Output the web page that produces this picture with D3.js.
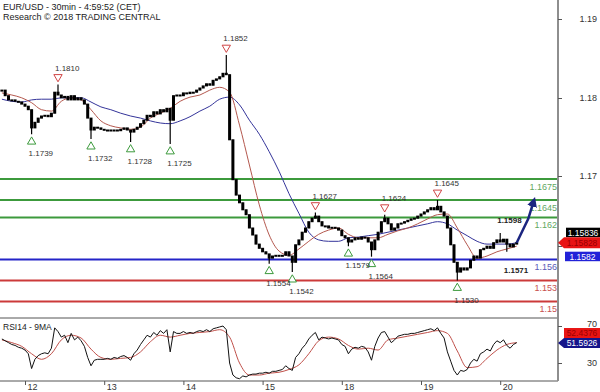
<!DOCTYPE html>
<html>
<head>
<meta charset="utf-8">
<script src="https://cdn.jsdelivr.net/npm/d3@7"></script>
<style>
  body { margin: 0; background: #fff; }
  svg { display: block; font-family: Arial, "Liberation Sans", sans-serif; }
</style>
</head>
<body>
<svg id="chart"></svg>
<script>
// hourly bars, hour 0 = start of the 12th
const startHour = -7;

const closes = [
  1.1802, 1.1794, 1.1788, 1.1788, 1.1786, 1.1785, 1.1782, 1.1779, 1.1774, 1.1748,
  1.1756, 1.1762, 1.1765, 1.1766, 1.1764, 1.1769, 1.1799, 1.1795, 1.1791, 1.1793,
  1.1788, 1.1794, 1.1788, 1.1791, 1.1788, 1.1782, 1.1762, 1.1745, 1.1749, 1.1748,
  1.1746, 1.1745, 1.1745, 1.1744, 1.1745, 1.1744, 1.1746, 1.1748, 1.1745, 1.1742,
  1.1746, 1.1749, 1.1754, 1.1759, 1.1766, 1.1764, 1.1771, 1.1768, 1.1774, 1.1771,
  1.1776, 1.1759, 1.1794, 1.1795, 1.1794, 1.1798, 1.1797, 1.1799, 1.1799, 1.1802,
  1.1805, 1.1808, 1.1811, 1.1809, 1.1816, 1.1818, 1.1821, 1.1826, 1.1824, 1.1731,
  1.1674, 1.1652, 1.1641, 1.1631, 1.1624, 1.1605, 1.1595, 1.1582, 1.1576, 1.1571,
  1.1568, 1.1562, 1.1565, 1.1566, 1.1565, 1.1566, 1.1571, 1.1565, 1.1556, 1.1581,
  1.1588, 1.1599, 1.1605, 1.1614, 1.1619, 1.1622, 1.1614, 1.1608, 1.1608, 1.1605,
  1.1606, 1.1605, 1.1602, 1.1594, 1.1591, 1.1585, 1.1588, 1.1591, 1.1589, 1.1592,
  1.1591, 1.1585, 1.1574, 1.1588, 1.1599, 1.1614, 1.1619, 1.1611, 1.1602, 1.1605,
  1.1611, 1.1612, 1.1614, 1.1616, 1.1618, 1.1619, 1.1622, 1.1625, 1.1628, 1.1631,
  1.1634, 1.1631, 1.1636, 1.1628, 1.1622, 1.1605, 1.1581, 1.1556, 1.1542, 1.1548,
  1.1545, 1.1548, 1.1559, 1.1565, 1.1562, 1.1574, 1.1576, 1.1579, 1.1576, 1.1584,
  1.1588, 1.1585, 1.1589, 1.1582, 1.1578, 1.1582, 1.1584
];

// wick extremes [hour, price]
const wickHighs = [[10, 1.1810], [61, 1.1852], [88, 1.1627], [109, 1.1624], [125, 1.1645], [144, 1.1598]];
const wickLows = [[2, 1.1739], [20, 1.1732], [32, 1.1728], [44, 1.1725], [74, 1.1554], [81, 1.1542],
                  [98, 1.1579], [105, 1.1564], [131, 1.1530], [146, 1.1571]];

// moving averages, one value every 3 hours
const maStep = 3;
const redMA = [
  1.1798, 1.1795, 1.1791, 1.1784, 1.1774, 1.1772, 1.1786, 1.1791, 1.1788, 1.1774,
  1.1758, 1.1751, 1.1748, 1.1746, 1.1749, 1.1762, 1.1769, 1.1776, 1.1786, 1.1792,
  1.1795, 1.1802, 1.1806, 1.1799, 1.1752, 1.1695, 1.1638, 1.1595, 1.1572, 1.1566,
  1.1575, 1.1586, 1.1596, 1.1602, 1.1605, 1.1596, 1.1591, 1.1591, 1.1591, 1.1596,
  1.1601, 1.1605, 1.1611, 1.1618, 1.1624, 1.1625, 1.1605, 1.1581, 1.1562, 1.1565,
  1.1571, 1.1575, 1.1579
];
const blueMA = [
  1.1789, 1.1786, 1.1785, 1.1788, 1.1789, 1.1789, 1.1791, 1.1791, 1.1791, 1.1785,
  1.1778, 1.1774, 1.1769, 1.1765, 1.1762, 1.1758, 1.1755, 1.1754, 1.1758, 1.1764,
  1.1772, 1.1779, 1.1789, 1.1792, 1.1781, 1.1759, 1.1739, 1.1714, 1.1686, 1.1654,
  1.1626, 1.1599, 1.1588, 1.1586, 1.1586, 1.1591, 1.1592, 1.1594, 1.1596, 1.1599,
  1.1602, 1.1605, 1.1608, 1.1611, 1.1614, 1.1611, 1.1602, 1.1594, 1.1586, 1.1582,
  1.1582, 1.1582, 1.1584
];

const rsi = [
  56, 54, 52, 50, 49, 47, 46, 44, 40, 24,
  34, 38, 40, 41, 40, 46, 68, 64, 58, 60,
  52, 62, 55, 58, 54, 48, 36, 27, 33, 34,
  34, 34, 35, 34, 36, 35, 37, 38, 36, 33,
  40, 44, 50, 55, 60, 58, 63, 60, 65, 62,
  66, 42, 64, 62, 62, 64, 62, 63, 62, 64,
  65, 64, 66, 64, 67, 68, 69, 70, 66, 30,
  17, 14, 13, 16, 15, 17, 18, 18, 19, 19,
  20, 19, 21, 21, 22, 23, 27, 24, 22, 36,
  40, 46, 50, 56, 60, 63, 55, 58, 57, 56,
  57, 56, 55, 50, 48, 40, 45, 47, 46, 48,
  47, 42, 33, 48, 57, 63, 64, 58, 52, 55,
  59, 60, 61, 61, 62, 62, 63, 64, 65, 66,
  67, 65, 68, 62, 57, 42, 32, 22, 17, 22,
  21, 23, 30, 34, 32, 40, 42, 45, 43, 50,
  54, 52, 55, 49, 46, 50, 52
];
const rsiMA = [
  55, 52, 48, 40, 34, 40, 55, 60, 57, 45,
  36, 34, 35, 36, 42, 53, 60, 58, 60, 62,
  63, 64, 66, 58, 30, 17, 17, 19, 20, 23,
  28, 40, 54, 58, 56, 49, 45, 46, 44, 55,
  57, 59, 61, 63, 65, 62, 43, 25, 26, 35,
  44, 50, 52
];

const levelValues = [1.1675, 1.1645, 1.162, 1.156, 1.153, 1.15];
const levelLabels = ['1.1675', '1.1645', '1.162', '1.156', '1.153', '1.15'];
const levelKinds = ['res', 'res', 'res', 'pivot', 'sup', 'sup'];

// annotated turning points
const markerHours = [2, 10, 20, 32, 44, 61, 74, 81, 88, 98, 105, 109, 125, 131, 144, 146];
const markerValues = [1.1739, 1.1810, 1.1732, 1.1728, 1.1725, 1.1852, 1.1554, 1.1542, 1.1627,
                      1.1579, 1.1564, 1.1624, 1.1645, 1.1530, 1.1598, 1.1571];
const markerKinds = ['low', 'high', 'low', 'low', 'low', 'high', 'low', 'low', 'high',
                     'low', 'low', 'high', 'high', 'low', 'target', 'target-low'];

const dayHours = [0, 24, 48, 72, 96, 120, 144];
const dayLabels = ['12', '13', '14', '15', '18', '19', '20'];
const priceTicks = [1.19, 1.18, 1.17, 1.16];
const priceTickLabels = ['1.19', '1.18', '1.17', ''];   // 1.16 sits under the price tags
const rsiTicks = [70, 30];

const forecastHours = [149, 152.5, 154.2];
const forecastValues = [1.1584, 1.1618, 1.1644];

const priceTags = ['1.15836', '1.15828', '1.1582'];
const rsiTags = ['52.4376', '51.5926'];


class TradingChart {

  constructor(_config) {
    this.config = {
      parentElement: _config.parentElement,
      containerWidth: _config.containerWidth || 600,
      containerHeight: _config.containerHeight || 392,
      plotRight: 558,
      panelSplit: 318,
      bottom: 381
    }
    this.initVis();
  }

  initVis() {
    let vis = this;
    const c = vis.config;

    vis.svg = d3.select(c.parentElement)
      .attr('width', c.containerWidth)
      .attr('height', c.containerHeight);

    vis.x = d3.scaleLinear().domain([0, 24]).range([25, 104.2]);
    vis.y = d3.scaleLinear().domain([1.1675, 1.15]).range([179, 301.5]);
    // the printed price axis is spaced a little differently from the plot
    vis.yAxisScale = d3.scaleLinear().domain([1.16, 1.17, 1.18, 1.19]).range([246, 176, 98, 19]);
    vis.yRsi = d3.scaleLinear().domain([70, 30]).range([326, 363]);

    const defs = vis.svg.append('defs');
    defs.append('clipPath').attr('id', 'clipMain')
      .append('rect').attr('x', 0).attr('y', 0).attr('width', c.plotRight).attr('height', c.panelSplit);
    defs.append('clipPath').attr('id', 'clipRsi')
      .append('rect').attr('x', 0).attr('y', c.panelSplit).attr('width', c.plotRight).attr('height', c.bottom - c.panelSplit);
    defs.append('marker')
      .attr('id', 'head')
      .attr('viewBox', '0 0 10 10')
      .attr('refX', 6).attr('refY', 5)
      .attr('markerWidth', 4).attr('markerHeight', 4)
      .attr('orient', 'auto')
      .append('path').attr('d', 'M0,0L10,5L0,10z').attr('fill', '#1b2580');

    vis.main = vis.svg.append('g').attr('clip-path', 'url(#clipMain)');
    vis.lower = vis.svg.append('g').attr('clip-path', 'url(#clipRsi)');
  }

  renderVis() {
    let vis = this;
    const c = vis.config;
    const x = vis.x, y = vis.y;

    // title
    vis.svg.append('text').attr('x', 3).attr('y', 9.5)
      .style('font-size', '9px').attr('fill', '#222')
      .text('EUR/USD - 30min - 4:59:52 (CET)');
    vis.svg.append('text').attr('x', 3).attr('y', 20)
      .style('font-size', '9px').attr('fill', '#222')
      .text('Research © 2018 TRADING CENTRAL');

    // key levels
    const levelColor = {res: '#3c9a3c', pivot: '#2424c8', sup: '#cc3a3a'};
    const levelText = {res: '#62a862', pivot: '#5a5ab8', sup: '#c85050'};
    vis.main.selectAll('.level')
      .data(levelValues)
      .enter().append('line')
      .attr('x1', 0).attr('x2', c.plotRight)
      .attr('y1', d => y(d)).attr('y2', d => y(d))
      .attr('stroke', (d, i) => levelColor[levelKinds[i]])
      .attr('stroke-width', 2);
    vis.main.selectAll('.levelLabel')
      .data(levelValues)
      .enter().append('text')
      .attr('x', c.plotRight - 1)
      .attr('y', d => y(d) + 10.5)
      .attr('text-anchor', 'end')
      .style('font-size', '9px')
      .attr('fill', (d, i) => levelText[levelKinds[i]])
      .text((d, i) => levelLabels[i]);

    // moving averages
    const maLine = d3.line()
      .x((d, i) => x(startHour + i * maStep))
      .y(d => y(d))
      .curve(d3.curveMonotoneX);
    vis.main.append('path').attr('d', maLine(blueMA))
      .attr('fill', 'none').attr('stroke', '#34349a').attr('stroke-width', 1);
    vis.main.append('path').attr('d', maLine(redMA))
      .attr('fill', 'none').attr('stroke', '#b4584e').attr('stroke-width', 1);

    // candles
    const highMap = new Map(wickHighs);
    const lowMap = new Map(wickLows);
    const bars = closes.map((cl, i) => {
      const h = startHour + i;
      const o = i === 0 ? cl : closes[i - 1];
      let hi = Math.max(o, cl), lo = Math.min(o, cl);
      if (highMap.has(h)) hi = Math.max(hi, highMap.get(h));
      if (lowMap.has(h)) lo = Math.min(lo, lowMap.get(h));
      return {h: h, o: o, c: cl, hi: hi, lo: lo};
    });

    const candles = vis.main.selectAll('.candle')
      .data(bars)
      .enter().append('g');
    candles.append('line')
      .attr('x1', d => x(d.h)).attr('x2', d => x(d.h))
      .attr('y1', d => y(d.hi)).attr('y2', d => y(d.lo))
      .attr('stroke', '#000').attr('stroke-width', 1.2);
    candles.append('rect')
      .attr('x', d => x(d.h) - 1.5)
      .attr('width', 3)
      .attr('y', d => y(Math.max(d.o, d.c)) - 0.5)
      .attr('height', d => Math.max(2, Math.abs(y(d.o) - y(d.c)) + 1))
      .attr('fill', '#000');

    // turning point markers
    const markers = markerHours.map((h, i) => ({h: h, v: markerValues[i], kind: markerKinds[i]}));
    const tri = d3.symbol().type(d3.symbolTriangle).size(30);
    vis.main.selectAll('.tri')
      .data(markers.filter(d => d.kind === 'low' || d.kind === 'high'))
      .enter().append('path')
      .attr('d', tri)
      .attr('transform', d => d.kind === 'low'
        ? `translate(${x(d.h)},${y(d.v) + 7.5})`
        : `translate(${x(d.h)},${y(d.v) - 7.5}) rotate(180)`)
      .attr('fill', '#fff')
      .attr('stroke', d => d.kind === 'low' ? '#3c9a3c' : '#d04545')
      .attr('stroke-width', 1);
    vis.main.selectAll('.markLabel')
      .data(markers)
      .enter().append('text')
      .attr('x', d => x(d.h) - 3)
      .attr('y', d => {
        if (d.kind === 'low') return y(d.v) + 22;
        if (d.kind === 'high') return y(d.v) - 14;
        if (d.kind === 'target') return y(d.v) - 10;
        return y(d.v) + 21;
      })
      .style('font-size', '8px')
      .style('font-weight', d => d.kind.startsWith('target') ? 'bold' : 'normal')
      .attr('fill', d => d.kind.startsWith('target') ? '#222' : '#333')
      .text(d => d.v.toFixed(4));

    // forecast arrow
    const fLine = d3.line().x(d => x(d[0])).y(d => y(d[1]));
    vis.main.append('path')
      .attr('d', fLine(forecastHours.map((h, i) => [h, forecastValues[i]])))
      .attr('fill', 'none')
      .attr('stroke', '#1b2580')
      .attr('stroke-width', 2.5)
      .attr('marker-end', 'url(#head)');

    // RSI panel
    vis.svg.append('text').attr('x', 3).attr('y', 329.5)
      .style('font-size', '8.5px').attr('fill', '#222')
      .text('RSI14 - 9MA');
    const rsiLine = d3.line()
      .x((d, i) => x(startHour + i))
      .y(d => vis.yRsi(d));
    const rsiMaLine = d3.line()
      .x((d, i) => x(startHour + i * maStep))
      .y(d => vis.yRsi(d))
      .curve(d3.curveMonotoneX);
    vis.lower.append('path').attr('d', rsiMaLine(rsiMA))
      .attr('fill', 'none').attr('stroke', '#c0504a').attr('stroke-width', 1);
    vis.lower.append('path').attr('d', rsiLine(rsi))
      .attr('fill', 'none').attr('stroke', '#111').attr('stroke-width', 1);

    // frame
    vis.svg.append('line')
      .attr('x1', 0).attr('x2', c.plotRight)
      .attr('y1', c.panelSplit).attr('y2', c.panelSplit)
      .attr('stroke', '#555').attr('stroke-width', 1);
    vis.svg.append('line')
      .attr('x1', 0).attr('x2', c.plotRight)
      .attr('y1', c.bottom).attr('y2', c.bottom)
      .attr('stroke', '#555').attr('stroke-width', 1);
    vis.svg.append('line')
      .attr('x1', c.plotRight).attr('x2', c.plotRight)
      .attr('y1', 0).attr('y2', c.bottom)
      .attr('stroke', '#8e8e8e').attr('stroke-width', 2);

    // axes
    const priceAxis = vis.svg.append('g')
      .attr('transform', `translate(${c.plotRight},0)`)
      .call(d3.axisRight(vis.yAxisScale).tickValues(priceTicks).tickSize(4)
        .tickFormat((d, i) => priceTickLabels[i]));
    const rsiAxis = vis.svg.append('g')
      .attr('transform', `translate(${c.plotRight},0)`)
      .call(d3.axisRight(vis.yRsi).tickValues(rsiTicks).tickSize(4));
    [priceAxis, rsiAxis].forEach(g => {
      g.select('.domain').remove();
      g.selectAll('line').attr('stroke', '#555');
      g.selectAll('text')
        .attr('x', 39).attr('text-anchor', 'end')
        .style('font-size', '9px').attr('fill', '#333');
    });
    // the 70 label peeks out above the RSI tag
    rsiAxis.selectAll('text').filter(d => d === 70).attr('dy', '0.05em');

    const timeAxis = vis.svg.append('g')
      .attr('transform', `translate(0,${c.bottom})`)
      .call(d3.axisBottom(x).tickValues(dayHours).tickSize(4)
        .tickFormat((d, i) => dayLabels[i]));
    timeAxis.select('.domain').remove();
    timeAxis.selectAll('line').attr('stroke', '#555');
    timeAxis.selectAll('text')
      .attr('x', 2).attr('y', 3).attr('dy', '0.71em')
      .attr('text-anchor', 'start')
      .style('font-size', '9px').attr('fill', '#333');

    // price tags on the right
    const last = closes[closes.length - 1];
    const tagY = y(last);
    const tags = vis.svg.append('g');
    tags.append('rect').attr('x', 566).attr('y', tagY - 15).attr('width', 34).attr('height', 9.5).attr('fill', '#000');
    tags.append('text').attr('x', 583).attr('y', tagY - 7.2).attr('text-anchor', 'middle')
      .style('font-size', '8.5px').attr('fill', '#fff').text(priceTags[0]);
    tags.append('path')
      .attr('d', `M${c.plotRight},${tagY} L564,${tagY - 5.5} L600,${tagY - 5.5} L600,${tagY + 5.5} L564,${tagY + 5.5} Z`)
      .attr('fill', '#e81414');
    tags.append('text').attr('x', 582).attr('y', tagY + 3.2).attr('text-anchor', 'middle')
      .style('font-size', '8.5px').attr('fill', '#9a0000').text(priceTags[1]);
    tags.append('rect').attr('x', 565).attr('y', tagY + 9).attr('width', 35).attr('height', 9.5).attr('fill', '#2222d8');
    tags.append('text').attr('x', 582.5).attr('y', tagY + 16.8).attr('text-anchor', 'middle')
      .style('font-size', '8.5px').attr('fill', '#fff').text(priceTags[2]);

    const rsiY = vis.yRsi(rsi[rsi.length - 1] - 0.4);
    tags.append('rect').attr('x', 564).attr('y', rsiY - 15).attr('width', 36).attr('height', 10).attr('fill', '#e81414');
    tags.append('text').attr('x', 582).attr('y', rsiY - 7).attr('text-anchor', 'middle')
      .style('font-size', '8.5px').attr('fill', '#9a0000').text(rsiTags[0]);
    tags.append('path')
      .attr('d', `M${c.plotRight},${rsiY} L564,${rsiY - 5} L600,${rsiY - 5} L600,${rsiY + 5} L564,${rsiY + 5} Z`)
      .attr('fill', '#15158a');
    tags.append('text').attr('x', 582).attr('y', rsiY + 3.2).attr('text-anchor', 'middle')
      .style('font-size', '8.5px').attr('fill', '#fff').text(rsiTags[1]);
  }
}

const chart = new TradingChart({parentElement: '#chart'});
chart.renderVis();
</script>
</body>
</html>
